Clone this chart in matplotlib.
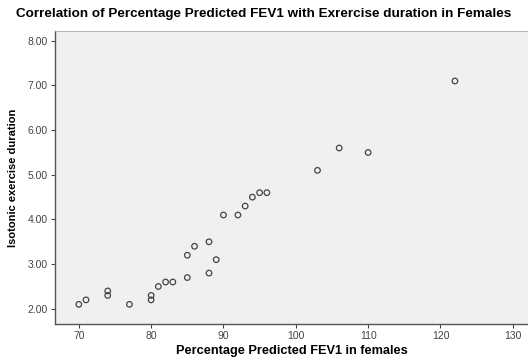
import matplotlib
matplotlib.use("Agg")
import matplotlib.pyplot as plt

# Percentage predicted FEV1 vs isotonic exercise duration (females)
fev1 = [70, 71, 74, 74, 77, 80, 80, 81, 82, 83, 85, 85, 86, 88, 88, 89,
        90, 92, 93, 94, 95, 96, 103, 106, 110, 122]
duration = [2.1, 2.2, 2.3, 2.4, 2.1, 2.2, 2.3, 2.5, 2.6, 2.6, 2.7, 3.2, 3.4, 2.8, 3.5, 3.1,
            4.1, 4.1, 4.3, 4.5, 4.6, 4.6, 5.1, 5.6, 5.5, 7.1]

x_ticks = [70, 80, 90, 100, 110, 120, 130]
y_ticks = [2, 3, 4, 5, 6, 7, 8]

plt.rcParams['font.family'] = ['Liberation Sans', 'DejaVu Sans']

fig = plt.figure(figsize=(5.28, 3.6), dpi=100)
ax = fig.add_axes([0.104, 0.1, 0.896, 0.814])
ax.set_facecolor('#f0f0f0')

ax.scatter(fev1, duration, s=16, facecolors='none', edgecolors='#444444', linewidths=0.9)

ax.set_xlim(66.7, 132.1)
ax.set_ylim(1.66, 8.22)
ax.set_xticks(x_ticks)
ax.set_yticks(y_ticks)
ax.set_yticklabels([f"{v:.2f}" for v in y_ticks])
ax.tick_params(labelsize=7.5, colors='#444444', length=3, width=0.8, pad=2)

for side in ['left', 'bottom']:
    ax.spines[side].set_color('#555555')
    ax.spines[side].set_linewidth(1.0)
ax.spines['top'].set_color('#aaaaaa')
ax.spines['top'].set_linewidth(0.6)
ax.spines['right'].set_visible(False)

ax.set_xlabel("Percentage Predicted FEV1 in females", fontsize=9.2, fontweight='bold', labelpad=3)
ax.set_ylabel("Isotonic exercise duration", fontsize=8, fontweight='bold', labelpad=7)
fig.suptitle("Correlation of Percentage Predicted FEV1 with Exrercise duration in Females",
             fontsize=9.7, fontweight='bold', x=0.5, y=0.978, va='top')

fig.savefig("out.png", dpi=100)
